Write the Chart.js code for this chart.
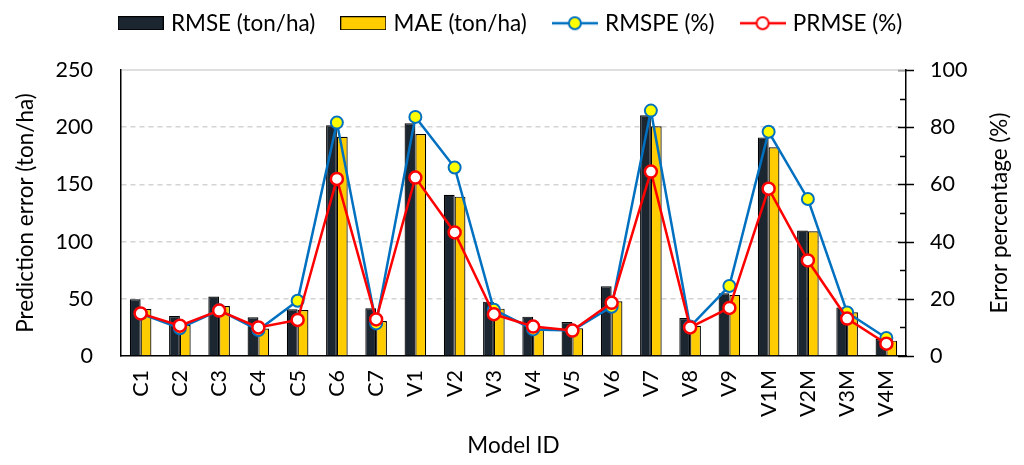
<!DOCTYPE html>
<html>
<head>
<meta charset="utf-8">
<script src="https://cdn.jsdelivr.net/npm/chart.js@4/dist/chart.umd.min.js"></script>
<style>
  html, body { margin: 0; padding: 0; background: #fff; }
  #wrap { width: 1024px; height: 465px; }
</style>
</head>
<body>
<div id="wrap"><canvas id="chart1" width="1024" height="465"></canvas></div>
<script>
  // data
  const models = ["C1", "C2", "C3", "C4", "C5", "C6", "C7", "V1", "V2", "V3", "V4", "V5", "V6", "V7", "V8", "V9", "V1M", "V2M", "V3M", "V4M"];
  const rmse = [49.5, 35, 52, 33.8, 40.8, 201.6, 41.7, 203.4, 141, 47.5, 34.4, 29.7, 60.9, 210.4, 33.2, 54.8, 191.1, 109.6, 42.5, 14.9];
  const mae = [41, 27, 43.7, 24, 40.2, 191.7, 30.6, 194, 139.3, 41.4, 25.6, 24.2, 47.8, 200.8, 26.5, 53.3, 182.4, 109, 38.2, 13.4];
  const rmspe = [14.8, 9.7, 16, 9.1, 19.3, 81.6, 11.4, 83.6, 65.9, 16.2, 9.3, 8.9, 17.2, 85.8, 10.3, 24.5, 78.4, 54.9, 15.2, 6.3];
  const prmse = [14.9, 10.6, 15.9, 10, 12.6, 61.9, 12.8, 62.4, 43.2, 14.6, 10.3, 8.9, 18.6, 64.5, 10, 16.8, 58.5, 33.4, 13.1, 4.3];

  const FONT = "Lato";
  const darkBar = "#1b2631";
  const goldBar = "#ffcc00";
  const blue = "#0070c0";
  const red = "#ff0000";

  // little pictures for the legend
  function legendBox(fill) {
    const c = document.createElement("canvas");
    c.width = 46; c.height = 14;
    const g = c.getContext("2d");
    g.fillStyle = fill;
    g.fillRect(0.5, 0.5, 45, 13);
    g.strokeStyle = "#000";
    g.lineWidth = 1;
    g.strokeRect(0.5, 0.5, 45, 13);
    return c;
  }
  function legendLine(stroke, fill) {
    const c = document.createElement("canvas");
    c.width = 46; c.height = 16;
    const g = c.getContext("2d");
    g.strokeStyle = stroke;
    g.lineWidth = 2.5;
    g.beginPath(); g.moveTo(0, 8); g.lineTo(46, 8); g.stroke();
    g.fillStyle = fill;
    g.lineWidth = 2;
    g.beginPath(); g.arc(23, 8, 6, 0, Math.PI * 2); g.fill(); g.stroke();
    return c;
  }

  // right axis ticks: long ones cross the axis, short ones point inward
  const rightTicks = {
    id: "rightTicks",
    afterDraw(chart) {
      const s = chart.scales.y1;
      const ctx = chart.ctx;
      const a = chart.chartArea;
      ctx.save();
      ctx.strokeStyle = "#000";
      ctx.lineWidth = 1.5;
      for (let v = s.min; v <= s.max; v += 10) {
        const y = Math.round(s.getPixelForValue(v)) + 0.5;
        const major = v % 20 === 0;
        ctx.beginPath();
        ctx.moveTo(a.right - (major ? 8 : 6), y);
        ctx.lineTo(a.right + (major ? 8 : 0), y);
        ctx.stroke();
      }
      // top line of the plot is solid light grey
      ctx.strokeStyle = "#d4d4d4";
      ctx.beginPath();
      ctx.moveTo(a.left + 1, a.top);
      ctx.lineTo(a.right - 1, a.top);
      ctx.stroke();
      // right title reads bottom to top, like the left one
      ctx.translate(1000, (a.top + a.bottom) / 2);
      ctx.rotate(-Math.PI / 2);
      ctx.fillStyle = "#000";
      ctx.font = "22.5px " + FONT;
      ctx.textAlign = "center";
      ctx.textBaseline = "middle";
      ctx.fillText("Error percentage (%)", 0, 0);
      ctx.restore();
    }
  };

  // fixed legend height so the plot starts where it does in the picture
  const legendHeight = {
    id: "legendHeight",
    beforeLayout(chart) {
      const lg = chart.legend;
      if (lg && !lg._fixed) {
        const fit = lg.fit;
        lg.fit = function () { fit.call(this); this.height = 87; };
        lg._fixed = true;
      }
    }
  };

  const ctx = document.getElementById("chart1").getContext("2d");
  new Chart(ctx, {
    type: "bar",
    data: {
      labels: models,
      datasets: [
        {
          label: "RMSE (ton/ha)",
          data: rmse,
          backgroundColor: darkBar,
          borderColor: "#000",
          borderWidth: 1.2,
          yAxisID: "y",
          order: 2,
          pointStyle: legendBox(darkBar)
        },
        {
          label: "MAE (ton/ha)",
          data: mae,
          backgroundColor: goldBar,
          borderColor: "#000",
          borderWidth: 1.2,
          yAxisID: "y",
          order: 2,
          pointStyle: legendBox(goldBar)
        },
        {
          type: "line",
          label: "RMSPE (%)",
          data: rmspe,
          borderColor: blue,
          borderWidth: 2.5,
          backgroundColor: "#ffff00",
          pointBackgroundColor: "#ffff00",
          pointBorderColor: blue,
          pointBorderWidth: 2,
          pointRadius: 6,
          tension: 0,
          yAxisID: "y1",
          order: 1,
          pointStyle: "circle"
        },
        {
          type: "line",
          label: "PRMSE (%)",
          data: prmse,
          borderColor: red,
          borderWidth: 2.5,
          backgroundColor: "#fff",
          pointBackgroundColor: "#fff",
          pointBorderColor: red,
          pointBorderWidth: 2.5,
          pointRadius: 6,
          tension: 0,
          yAxisID: "y1",
          order: 0,
          pointStyle: "circle"
        }
      ]
    },
    options: {
      responsive: false,
      animation: false,
      layout: { padding: { top: -17, left: 0, right: 0, bottom: 0 } },
      datasets: {
        bar: { categoryPercentage: 0.55, barPercentage: 1.0 }
      },
      plugins: {
        tooltip: { enabled: false },
        legend: {
          position: "top",
          labels: {
            font: { family: FONT, size: 22.5 },
            color: "#000",
            padding: 29,
            usePointStyle: true,
            pointStyleWidth: 38,
            sort: (a, b) => a.datasetIndex - b.datasetIndex,
            generateLabels(chart) {
              return chart.data.datasets.map((ds, i) => ({
                text: ds.label,
                datasetIndex: i,
                pointStyle: i === 2 ? legendLine(blue, "#ffff00") :
                            i === 3 ? legendLine(red, "#fff") : ds.pointStyle,
                fontColor: "#000",
                hidden: false,
                lineWidth: 0
              }));
            }
          }
        }
      },
      scales: {
        x: {
          grid: { display: false, drawTicks: false },
          border: { color: "#000", width: 1.5 },
          ticks: {
            color: "#000",
            font: { family: FONT, size: 21.5 },
            minRotation: 90,
            maxRotation: 90,
            padding: 14,
            autoSkip: false
          },
          title: {
            display: true,
            text: "Model ID",
            color: "#000",
            font: { family: FONT, size: 22.5 },
            padding: 6
          },
          afterFit(scale) { scale.height = 109; }
        },
        y: {
          position: "left",
          min: 0,
          max: 250,
          ticks: {
            stepSize: 50,
            color: "#000",
            font: { family: FONT, size: 21.5 },
            padding: 28
          },
          grid: {
            color: c => (c.tick && (c.tick.value === 0 || c.tick.value === 250) ? "rgba(0,0,0,0)" : "#d4d4d4"),
            lineWidth: 1.5,
            drawTicks: false
          },
          border: { color: "#000", width: 1.5, dash: [5, 4] },
          title: {
            display: true,
            text: "Prediction error (ton/ha)",
            color: "#000",
            font: { family: FONT, size: 22.5 },
            padding: 12
          },
          afterFit(scale) { scale.width = 121; }
        },
        y1: {
          position: "right",
          min: 0,
          max: 100,
          ticks: {
            stepSize: 20,
            color: "#000",
            font: { family: FONT, size: 21.5 },
            padding: 24
          },
          grid: { drawOnChartArea: false, drawTicks: false },
          border: { color: "#000", width: 1.5 },
          afterFit(scale) { scale.width = 118; }
        }
      }
    },
    plugins: [legendHeight, rightTicks]
  });
</script>
</body>
</html>
